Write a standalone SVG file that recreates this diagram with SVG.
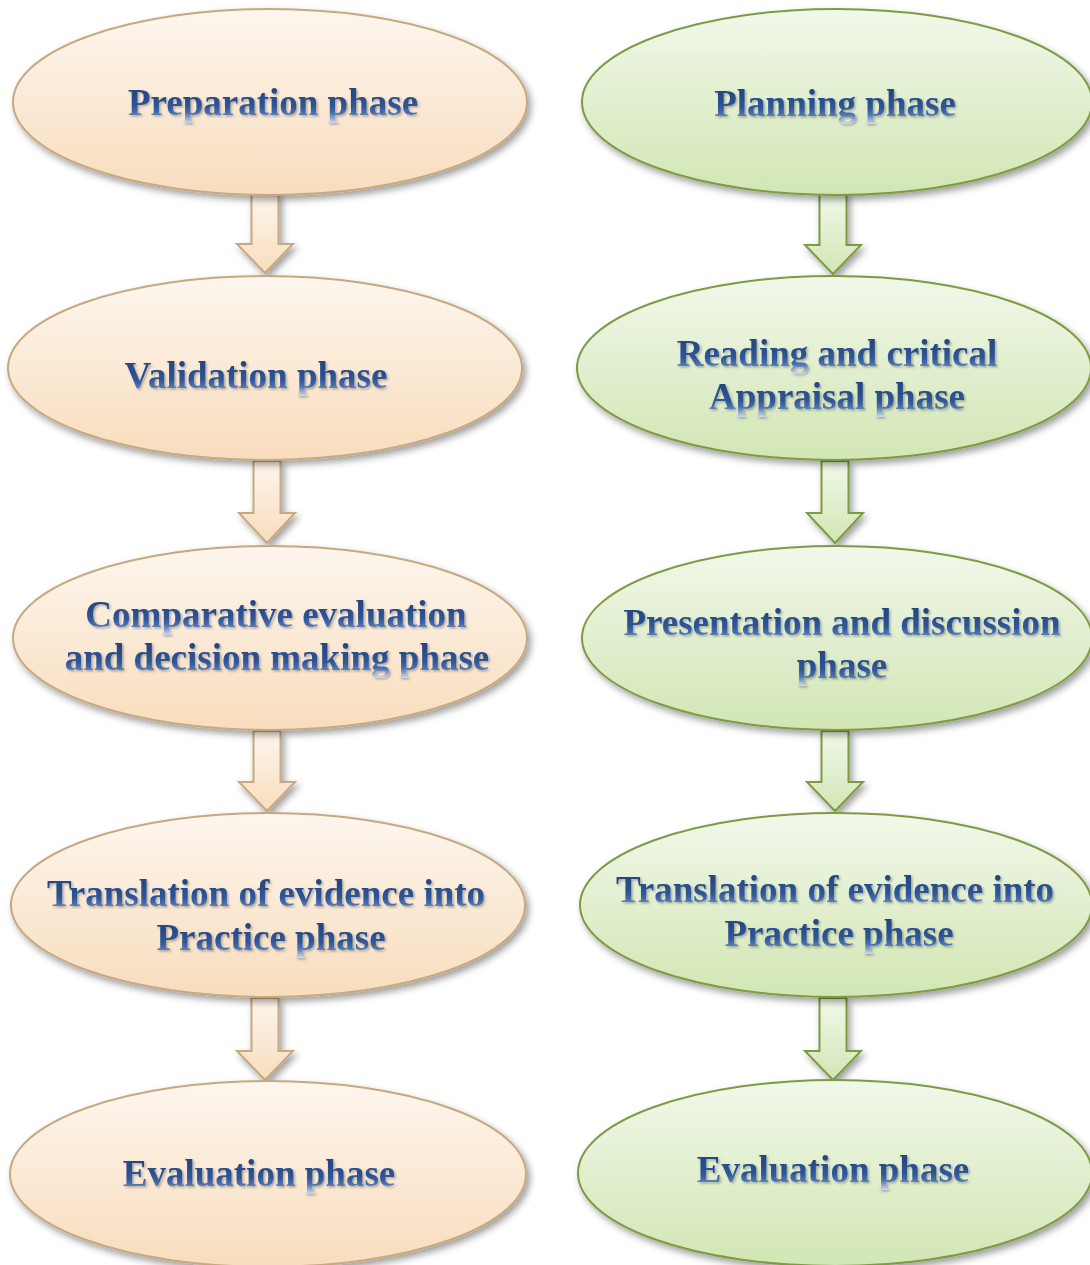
<svg xmlns="http://www.w3.org/2000/svg" width="1090" height="1265" viewBox="0 0 1090 1265">
  <defs>
    <linearGradient id="fillOrange" x1="0" y1="0" x2="0" y2="1">
      <stop offset="0" stop-color="#FDF6EE"/>
      <stop offset="1" stop-color="#F8DDBD"/>
    </linearGradient>
    <linearGradient id="fillGreen" x1="0" y1="0" x2="0" y2="1">
      <stop offset="0" stop-color="#F1F8EA"/>
      <stop offset="1" stop-color="#D2E6B4"/>
    </linearGradient>
    <linearGradient id="textBlue" x1="0" y1="0" x2="0" y2="1">
      <stop offset="0" stop-color="#213E77"/>
      <stop offset="0.6" stop-color="#2F5598"/>
      <stop offset="0.76" stop-color="#4A70B0"/>
      <stop offset="1" stop-color="#D0DCEF"/>
    </linearGradient>
    <filter id="shapeShadow" x="-10%" y="-10%" width="125%" height="130%">
      <feDropShadow dx="3" dy="4" stdDeviation="3.5" flood-color="#000" flood-opacity="0.38"/>
    </filter>
    <filter id="textShadow" x="-5%" y="-20%" width="110%" height="150%">
      <feDropShadow dx="1.5" dy="1.5" stdDeviation="1" flood-color="#000" flood-opacity="0.3"/>
    </filter>
  </defs>
  <style>
    .orange { fill: url(#fillOrange); stroke: #C6A97F; stroke-width: 2; filter: url(#shapeShadow); }
    .green { fill: url(#fillGreen); stroke: #7D9C43; stroke-width: 2; filter: url(#shapeShadow); }
    .label { font-family: "Liberation Serif", "Times New Roman", serif; font-weight: bold; font-size: 37px; fill: url(#textBlue); text-anchor: middle; filter: url(#textShadow); }
  </style>

  <rect width="1090" height="1265" fill="#FFFFFF"/>

  <!-- block arrows between phases -->
  <g id="connectors">
    <path class="orange" d="M251.5,193 H278.5 V244 H293 L265,273 L237,244 H251.5 Z"/>
    <path class="orange" d="M253.5,461 H280.5 V513 H295 L267,543 L239,513 H253.5 Z"/>
    <path class="orange" d="M253.5,731 H280.5 V782 H295 L267,811 L239,782 H253.5 Z"/>
    <path class="orange" d="M251.5,998 H278.5 V1051 H293 L265,1080 L237,1051 H251.5 Z"/>
    <path class="green" d="M819.5,193 H846.5 V245 H861 L833,274 L805,245 H819.5 Z"/>
    <path class="green" d="M821.5,461 H848.5 V513 H863 L835,543 L807,513 H821.5 Z"/>
    <path class="green" d="M821.5,731 H848.5 V782 H863 L835,811 L807,782 H821.5 Z"/>
    <path class="green" d="M819.5,998 H846.5 V1051 H861 L833,1080 L805,1051 H819.5 Z"/>
  </g>

  <!-- left column -->
  <g id="preparation">
    <ellipse class="orange" cx="270" cy="102" rx="257" ry="93"/>
    <text class="label" x="273" y="115">Preparation phase</text>
  </g>
  <g id="validation">
    <ellipse class="orange" cx="265" cy="368" rx="257" ry="92"/>
    <text class="label" x="256" y="388">Validation phase</text>
  </g>
  <g id="comparative">
    <ellipse class="orange" cx="270" cy="638" rx="257" ry="92"/>
    <text class="label" x="276" y="627">Comparative evaluation</text>
    <text class="label" x="277" y="670">and decision making phase</text>
  </g>
  <g id="translation-left">
    <ellipse class="orange" cx="268" cy="905" rx="257" ry="92"/>
    <text class="label" x="266" y="906">Translation of evidence into</text>
    <text class="label" x="271" y="950">Practice phase</text>
  </g>
  <g id="evaluation-left">
    <ellipse class="orange" cx="268" cy="1174" rx="258" ry="93"/>
    <text class="label" x="259" y="1186">Evaluation phase</text>
  </g>

  <!-- right column -->
  <g id="planning">
    <ellipse class="green" cx="837" cy="102" rx="255" ry="93"/>
    <text class="label" x="835" y="116">Planning phase</text>
  </g>
  <g id="reading">
    <ellipse class="green" cx="834" cy="368" rx="257" ry="92"/>
    <text class="label" x="837" y="366">Reading and critical</text>
    <text class="label" x="837" y="409">Appraisal phase</text>
  </g>
  <g id="presentation">
    <ellipse class="green" cx="837" cy="638" rx="255" ry="92"/>
    <text class="label" x="842" y="635">Presentation and discussion</text>
    <text class="label" x="842" y="678">phase</text>
  </g>
  <g id="translation-right">
    <ellipse class="green" cx="836" cy="905" rx="256" ry="92"/>
    <text class="label" x="835" y="902">Translation of evidence into</text>
    <text class="label" x="839" y="946">Practice phase</text>
  </g>
  <g id="evaluation-right">
    <ellipse class="green" cx="835" cy="1173" rx="257" ry="93"/>
    <text class="label" x="833" y="1182">Evaluation phase</text>
  </g>
</svg>
